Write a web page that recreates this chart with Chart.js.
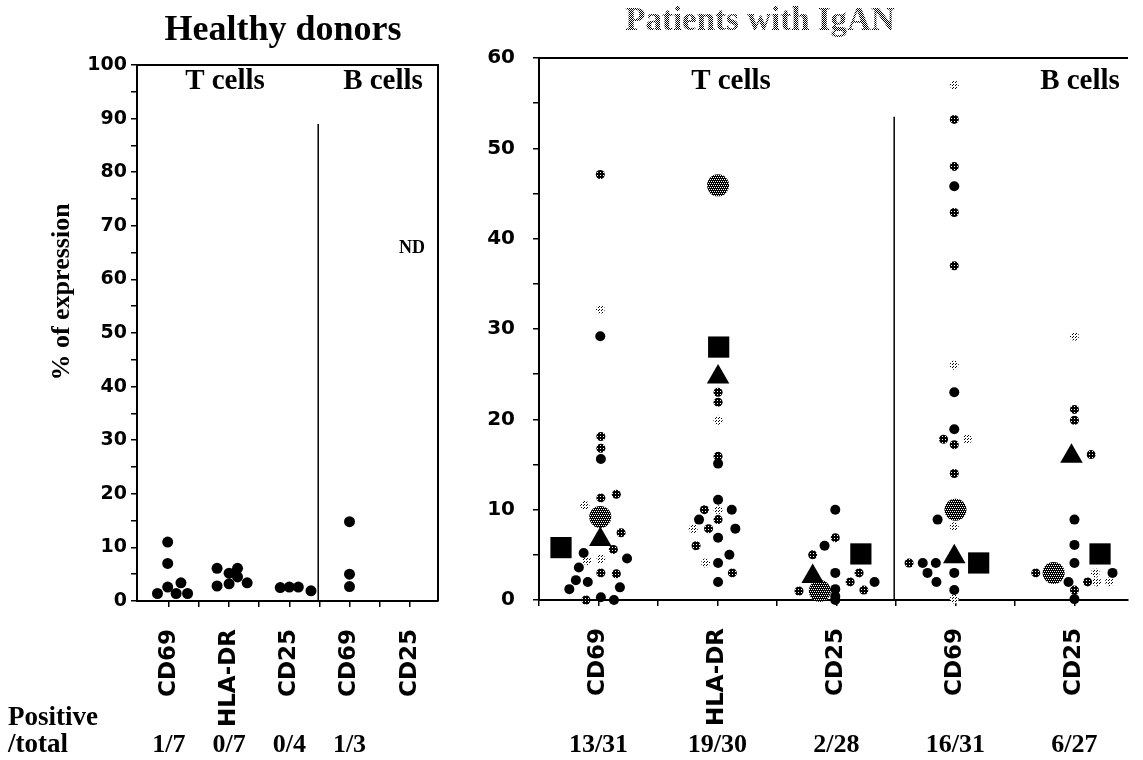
<!doctype html>
<html lang="en">

<head>
    <meta charset="utf-8">
    <title>Healthy donors / Patients with IgAN</title>
    <style>
        * {
            margin: 0;
            padding: 0;
        }

        body {
            width: 1143px;
            height: 760px;
            background: #fff;
            position: relative;
            overflow: hidden;
        }

        .panel {
            position: absolute;
            top: 0;
            height: 760px;
        }

        #leftBox {
            left: 0;
            width: 470px;
        }

        #rightBox {
            left: 470px;
            width: 673px;
        }
    </style>
</head>

<body>
    <div class="panel" id="leftBox"><canvas id="leftChart"></canvas></div>
    <div class="panel" id="rightBox"><canvas id="rightChart"></canvas></div>

    <script src="https://cdn.jsdelivr.net/npm/chart.js"></script>

    <script>
        // ---- healthy donors (left panel) ----
        const hdCats = ['CD69', 'HLA-DR', 'CD25', 'CD69', 'CD25'];
        const hdCatPos = [1, 2, 3, 4, 5];
        const hdCounts = ['1/7', '0/7', '0/4', '1/3', ''];
        const hdDotX = [0.81, 0.98, 0.98, 0.98, 1.2, 1.12, 1.31, 1.8, 1.8, 2.0, 2.0, 2.14, 2.14, 2.3, 2.85, 3.0, 3.15, 3.36, 4, 4, 4];
        const hdDotY = [1.4, 11, 7, 2.6, 3.4, 1.4, 1.4, 6.1, 2.8, 3.2, 5.2, 6.1, 4.5, 3.4, 2.5, 2.6, 2.6, 1.9, 14.8, 5.0, 2.7];
        const hdYTicks = [0, 5, 10, 15, 20, 25, 30, 35, 40, 45, 50, 55, 60, 65, 70, 75, 80, 85, 90, 95, 100];

        // ---- patients with IgAN (right panel) ----
        const pCats = ['CD69', 'HLA-DR', 'CD25', 'CD69', 'CD25'];
        const pCatPos = [1, 3, 5, 7, 9];
        const pCounts = ['13/31', '19/30', '2/28', '16/31', '6/27'];

        // black dots
        const pBlackX = [1.03, 1.04, 0.75, 1.48, 0.67, 0.62, 0.82, 1.36, 0.51, 1.04, 1.26,
            3.01, 3.01, 3.24, 2.69, 3.3, 3.01, 3.2, 3.01, 3.01,
            4.98, 4.8, 4.98, 4.98, 4.98, 4.98, 5.64,
            6.98, 6.98, 6.98, 6.7, 6.45, 6.67, 6.53, 6.98, 6.68, 6.98,
            9, 9, 9, 8.9, 9, 9.64];
        const pBlackY = [29.2, 15.6, 5.2, 4.6, 3.6, 2.2, 2.0, 1.4, 1.2, 0.3, 0,
            15.1, 11.1, 10.0, 8.9, 7.9, 6.9, 5.0, 4.1, 2.0,
            10.0, 6.0, 3.0, 1.2, 0.4, 0, 2.0,
            45.8, 23.0, 18.9, 8.9, 4.1, 4.1, 3.0, 3.0, 2.0, 1.1,
            8.9, 6.1, 4.1, 2.0, 0.1, 3.0];
        // dark speckled dots
        const pDenseX = [1.03, 1.04, 1.04, 1.3, 1.04, 1.38, 1.25, 1.04, 1.3, 0.79,
            3.01, 3.01, 3.01, 2.78, 3.01, 2.85, 2.64, 3.25,
            4.98, 4.6, 4.37, 5.38, 5.23, 5.46,
            6.98, 6.98, 6.98, 6.98, 6.8, 6.98, 6.98, 6.22,
            9, 9, 9.28, 8.35, 9, 9.22];
        const pDenseY = [47.1, 18.1, 16.8, 11.7, 11.3, 7.45, 5.6, 3.0, 2.9, 0,
            23.0, 21.9, 15.9, 10.0, 8.9, 7.9, 6.0, 3.0,
            6.9, 5.0, 1.0, 3.0, 2.0, 1.1,
            53.2, 48.0, 42.9, 37.0, 17.8, 17.2, 14.0, 4.1,
            21.1, 19.9, 16.1, 3.0, 1.1, 2.0];
        // light speckled dots
        const pSparseX = [1.03, 0.77, 0.81, 1.04,
            3.01, 3.01, 2.59, 2.8,
            6.98, 6.98, 7.2, 6.98, 6.98,
            9, 9.35, 9.38, 9.59];
        const pSparseY = [32.2, 10.5, 4.35, 4.5,
            19.9, 10.0, 7.9, 4.1,
            57.0, 26.0, 17.8, 8.1, 0.1,
            29.2, 3.0, 2.0, 2.0];
        // large markers
        const pCircleX = [1.03, 3.01, 4.72, 7.0, 8.65];
        const pCircleY = [9.2, 45.9, 1.0, 10.0, 3.0];
        const pSquareX = [0.37, 3.02, 5.41, 7.39, 9.43];
        const pSquareY = [5.8, 28.0, 5.1, 4.1, 5.1];
        const pTriangleX = [1.03, 3.01, 4.6, 6.98, 8.95];
        const pTriangleY = [6.7, 24.7, 2.6, 4.8, 15.9];

        // T / B separators
        const hdDivider = { x: 3.48, top: 89 };
        const pDivider = { x: 5.97, top: 53.5 };

        const serif = s => `bold ${s}px "Liberation Serif", "Times New Roman", serif`;

        // dithered fills like the printed figure
        function makePattern(rows) {
            const c = document.createElement('canvas');
            c.width = rows[0].length;
            c.height = rows.length;
            const g = c.getContext('2d');
            g.fillStyle = '#fff';
            g.fillRect(0, 0, c.width, c.height);
            g.fillStyle = '#000';
            rows.forEach((r, y) => r.forEach((b, x) => { if (b) g.fillRect(x, y, 1, 1); }));
            return g.createPattern(c, 'repeat');
        }
        const densePat = makePattern([[1, 1, 1], [1, 0, 1], [1, 1, 1]]);
        const sparsePat = makePattern([[1, 0, 0], [0, 0, 1], [0, 0, 0]]);
        const bigPat = makePattern([[1, 1, 1, 1], [1, 0, 1, 0], [1, 1, 1, 1], [0, 1, 0, 1]]);
        const titlePat = makePattern([[1, 0], [0, 1]]);

        const pts = (xs, ys) => xs.map((x, i) => ({ x: x, y: ys[i] }));

        function marks(label, xs, ys, style, r, fill) {
            return {
                label: label,
                data: pts(xs, ys),
                pointStyle: style,
                pointRadius: r,
                backgroundColor: fill,
                borderWidth: 0,
                clip: false
            };
        }

        function catLabel(cats, pos) {
            return v => {
                const i = pos.findIndex(p => Math.abs(p - v) < 1e-6);
                return i < 0 ? '' : cats[i];
            };
        }

        function xAxis(min, max, tickVals, cats, pos, height) {
            return {
                type: 'linear',
                min: min,
                max: max,
                afterBuildTicks: s => { s.ticks = tickVals.map(v => ({ value: v })); },
                afterFit: s => { s.height = height; },
                ticks: {
                    autoSkip: false,
                    minRotation: 90,
                    maxRotation: 90,
                    padding: 22,
                    color: '#000',
                    font: { family: 'DejaVu Sans', weight: 'bold', size: 23 },
                    callback: catLabel(cats, pos)
                },
                grid: { drawOnChartArea: false, tickLength: 6, color: '#000', lineWidth: 1.5 },
                border: { display: true, color: '#000', width: 2 }
            };
        }

        function yAxis(max, width, pad, size) {
            return {
                type: 'linear',
                min: 0,
                max: max,
                afterFit: s => { s.width = width; },
                ticks: {
                    stepSize: 5,
                    autoSkip: false,
                    padding: pad,
                    color: '#000',
                    font: { family: 'DejaVu Sans', weight: 'bold', size: size },
                    callback: v => (v % 10 === 0 ? v : '')
                },
                grid: { drawOnChartArea: false, tickLength: 6, color: '#000', lineWidth: 1.5 },
                border: { display: true, color: '#000', width: 2 }
            };
        }

        function text(ctx, str, x, y, font, color, align, rot) {
            ctx.save();
            ctx.font = font;
            ctx.fillStyle = color || '#000';
            ctx.textAlign = align || 'center';
            ctx.textBaseline = 'middle';
            ctx.translate(x, y);
            if (rot) ctx.rotate(rot);
            ctx.fillText(str, 0, 0);
            ctx.restore();
        }

        // frame, separator and all free text of the left panel
        const leftDecor = {
            id: 'leftDecor',
            afterDraw(chart) {
                const ctx = chart.ctx, a = chart.chartArea, sx = chart.scales.x, sy = chart.scales.y;
                ctx.save();
                ctx.strokeStyle = '#000';
                ctx.lineWidth = 2;
                ctx.beginPath();
                ctx.moveTo(a.left, a.top);
                ctx.lineTo(a.right, a.top);
                ctx.lineTo(a.right, a.bottom);
                ctx.stroke();
                ctx.lineWidth = 1.5;
                ctx.beginPath();
                ctx.moveTo(sx.getPixelForValue(hdDivider.x), sy.getPixelForValue(hdDivider.top));
                ctx.lineTo(sx.getPixelForValue(hdDivider.x), a.bottom);
                ctx.stroke();
                ctx.restore();

                text(ctx, 'Healthy donors', 283, 31, serif(36));
                text(ctx, 'T cells', 225, 82, serif(29));
                text(ctx, 'B cells', 383, 82, serif(29));
                text(ctx, 'ND', 412, 248, serif(18));
                text(ctx, '% of expression', 62, 292, serif(26), '#000', 'center', -Math.PI / 2);
                text(ctx, 'Positive', 8, 718, serif(27), '#000', 'left');
                text(ctx, '/total', 8, 745, serif(27), '#000', 'left');
                hdCounts.forEach((c, i) => text(ctx, c, sx.getPixelForValue(hdCatPos[i]), 745, serif(26)));
            }
        };

        const rightDecor = {
            id: 'rightDecor',
            afterDraw(chart) {
                const ctx = chart.ctx, a = chart.chartArea, sx = chart.scales.x, sy = chart.scales.y;
                ctx.save();
                ctx.strokeStyle = '#000';
                ctx.lineWidth = 2;
                ctx.beginPath();
                ctx.moveTo(a.left, a.top);
                ctx.lineTo(a.right, a.top);
                ctx.stroke();
                ctx.lineWidth = 1.5;
                ctx.beginPath();
                ctx.moveTo(sx.getPixelForValue(pDivider.x), sy.getPixelForValue(pDivider.top));
                ctx.lineTo(sx.getPixelForValue(pDivider.x), a.bottom);
                ctx.stroke();
                ctx.restore();

                text(ctx, 'Patients with IgAN', 290, 21, serif(33), titlePat);
                text(ctx, 'T cells', 261, 82, serif(29));
                text(ctx, 'B cells', 610, 82, serif(29));
                pCounts.forEach((c, i) => text(ctx, c, sx.getPixelForValue(pCatPos[i]), 745, serif(26)));
            }
        };

        const common = {
            responsive: true,
            maintainAspectRatio: false,
            animation: false,
            events: [],
            plugins: { legend: { display: false }, tooltip: { enabled: false } }
        };

        new Chart(document.getElementById('leftChart'), {
            type: 'scatter',
            data: {
                datasets: [marks('Healthy donors', hdDotX, hdDotY, 'circle', 5.5, '#000')]
            },
            options: Object.assign({}, common, {
                layout: { padding: { left: 0, right: 32, top: 65, bottom: 0 } },
                scales: {
                    x: xAxis(0.47, 5.47, [1, 1.5, 2, 2.5, 3, 3.5, 4, 4.5, 5], hdCats, hdCatPos, 159),
                    y: Object.assign(yAxis(100, 137, 4, 19), {
                        afterBuildTicks: s => { s.ticks = hdYTicks.map(v => ({ value: v })); }
                    })
                }
            }),
            plugins: [leftDecor]
        });

        new Chart(document.getElementById('rightChart'), {
            type: 'scatter',
            data: {
                datasets: [
                    marks('Square', pSquareX, pSquareY, 'rect', 15, '#000'),
                    marks('Triangle', pTriangleX, pTriangleY, 'triangle', 13, '#000'),
                    marks('Circle', pCircleX, pCircleY, 'circle', 11, bigPat),
                    marks('Black', pBlackX, pBlackY, 'circle', 5, '#000'),
                    marks('Dense', pDenseX, pDenseY, 'circle', 4.5, densePat),
                    marks('Sparse', pSparseX, pSparseY, 'circle', 4.5, sparsePat)
                ]
            },
            options: Object.assign({}, common, {
                layout: { padding: { left: 0, right: 0, top: 58, bottom: 0 } },
                scales: {
                    x: xAxis(0, 9.9, [0, 1, 2, 3, 4, 5, 6, 7, 8, 9], pCats, pCatPos, 160),
                    y: yAxis(60, 69, 18, 20)
                }
            }),
            plugins: [rightDecor]
        });
    </script>

</body>

</html>
